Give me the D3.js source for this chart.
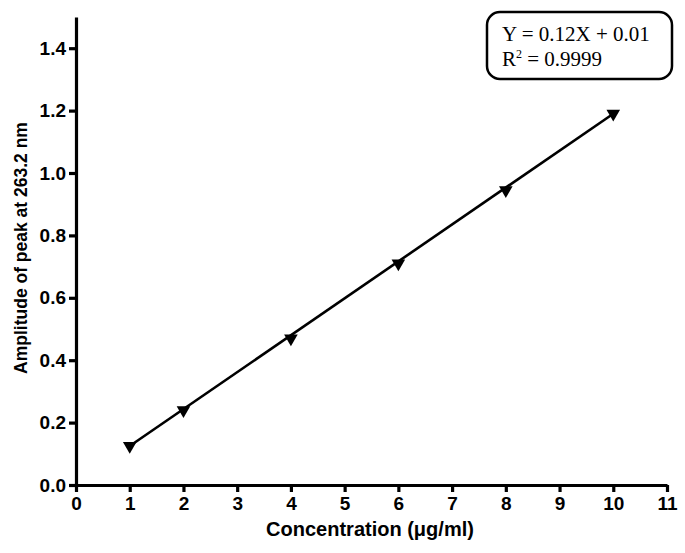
<!DOCTYPE html>
<html>
<head>
<meta charset="utf-8">
<script src="https://cdn.jsdelivr.net/npm/d3@7"></script>
<style>
  body { margin: 0; background: #fff; }
  svg { display: block; }
</style>
</head>
<body>
<script>
// data
var conc = [1, 2, 4, 6, 8, 10];
var amplitude = [0.125, 0.24, 0.47, 0.71, 0.945, 1.19];
var xTicks = [0, 1, 2, 3, 4, 5, 6, 7, 8, 9, 10, 11];
var yTicks = [0.0, 0.2, 0.4, 0.6, 0.8, 1.0, 1.2, 1.4];
var eqLines = ["Y = 0.12X + 0.01", "R2 = 0.9999"];

var W = 685, H = 553;
var svg = d3.select("body").append("svg").attr("width", W).attr("height", H);

var x = d3.scaleLinear().domain([0, 11]).range([76, 667]);
var y = d3.scaleLinear().domain([0, 1.5]).range([485, 17]);

var font = "'Liberation Sans', Arial, sans-serif";

// axes
var xAxis = svg.append("g").attr("transform", "translate(0," + y(0) + ")")
  .call(d3.axisBottom(x).tickValues(xTicks).tickSize(7).tickSizeOuter(0).tickFormat(d3.format("d")));
var yAxis = svg.append("g").attr("transform", "translate(" + x(0) + ",0)")
  .call(d3.axisLeft(y).tickValues(yTicks).tickSize(7).tickSizeOuter(0).tickFormat(d3.format(".1f")));

[xAxis, yAxis].forEach(function(g) {
  g.select(".domain").attr("stroke", "#000").attr("stroke-width", 3.2);
  g.selectAll(".tick line").attr("stroke", "#000").attr("stroke-width", 3.2);
  g.selectAll(".tick text").attr("fill", "#000")
    .style("font-family", font).style("font-weight", "bold").style("font-size", "19px");
});
xAxis.selectAll(".tick text").attr("dy", "0.8em");
yAxis.selectAll(".tick text").attr("x", -10);

// regression line from first to last point
var first = 0, last = conc.length - 1;
svg.append("path")
  .attr("d", d3.line()([[x(conc[first]), y(amplitude[first])], [x(conc[last]), y(amplitude[last])]]))
  .attr("fill", "none").attr("stroke", "#000").attr("stroke-width", 2.6);

// down triangle markers
var tri = d3.symbol().type(d3.symbolTriangle).size(80);
svg.selectAll(".pt").data(conc).enter().append("path")
  .attr("class", "pt")
  .attr("d", tri)
  .attr("transform", function(d, i) { return "translate(" + x(d) + "," + y(amplitude[i]) + ") rotate(180)"; })
  .attr("fill", "#000");

// axis titles
svg.append("text").attr("x", 370).attr("y", 536).attr("text-anchor", "middle")
  .style("font-family", font).style("font-weight", "bold").style("font-size", "20px")
  .text("Concentration (\u03bcg/ml)");
svg.append("text").attr("transform", "translate(27,248) rotate(-90)").attr("text-anchor", "middle")
  .style("font-family", font).style("font-weight", "bold").style("font-size", "17.5px")
  .text("Amplitude of peak at 263.2 nm");

// equation box
svg.append("rect").attr("x", 487).attr("y", 12).attr("width", 185).attr("height", 67)
  .attr("rx", 13).attr("ry", 13).attr("fill", "#fff").attr("stroke", "#000").attr("stroke-width", 2.5);
var tf = "'Liberation Serif', 'Times New Roman', serif";
svg.append("text").attr("x", 502).attr("y", 41)
  .style("font-family", tf).style("font-size", "21px").text(eqLines[0]);
var r2 = svg.append("text").attr("x", 502).attr("y", 66)
  .style("font-family", tf).style("font-size", "21px");
r2.append("tspan").text("R");
r2.append("tspan").attr("dy", -8).style("font-size", "12px").text("2");
r2.append("tspan").attr("dy", 8).text(" = 0.9999");
</script>
</body>
</html>
